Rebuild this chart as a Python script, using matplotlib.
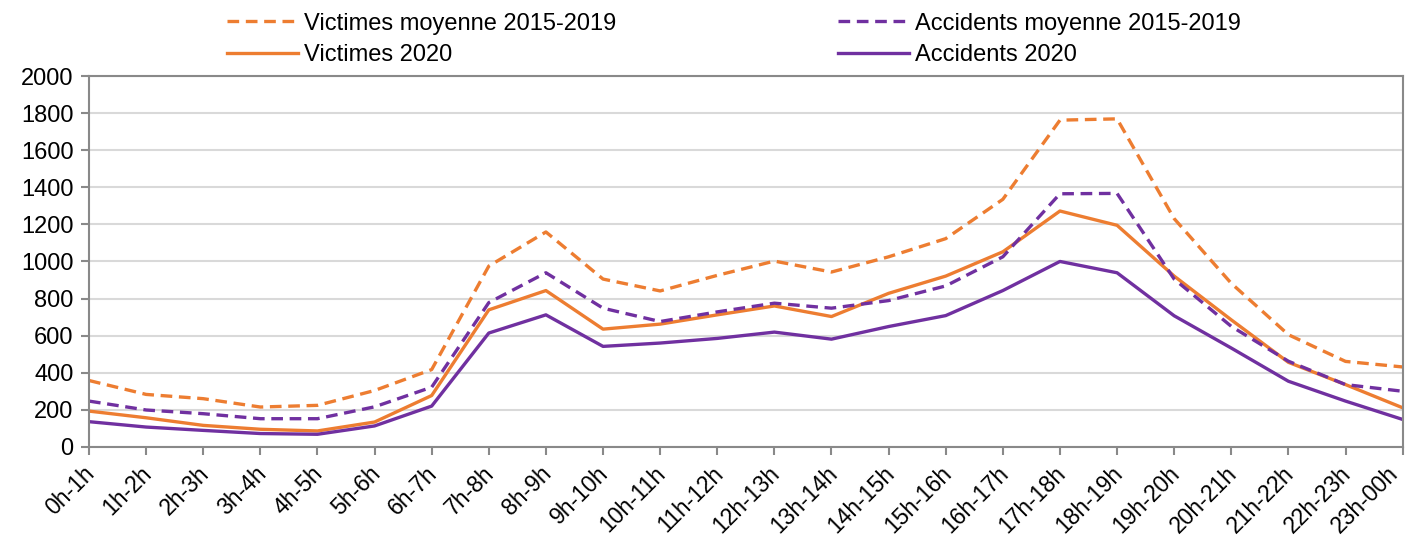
import matplotlib.pyplot as plt
from matplotlib.transforms import ScaledTranslation

plt.rcParams['font.family'] = ['Liberation Sans', 'DejaVu Sans']

# hourly slots
hours = ['0h-1h', '1h-2h', '2h-3h', '3h-4h', '4h-5h', '5h-6h', '6h-7h', '7h-8h',
         '8h-9h', '9h-10h', '10h-11h', '11h-12h', '12h-13h', '13h-14h', '14h-15h',
         '15h-16h', '16h-17h', '17h-18h', '18h-19h', '19h-20h', '20h-21h',
         '21h-22h', '22h-23h', '23h-00h']

victimes_moy = [358, 283, 260, 215, 224, 304, 417, 975, 1159, 905, 841, 925,
                1002, 943, 1025, 1123, 1335, 1762, 1769, 1231, 882, 605, 461, 431]
accidents_moy = [247, 199, 179, 152, 152, 216, 322, 778, 939, 748, 676, 728,
                 775, 748, 789, 868, 1025, 1365, 1367, 905, 650, 462, 336, 300]
victimes_2020 = [193, 157, 116, 95, 86, 134, 277, 739, 843, 635, 662, 712,
                 760, 703, 828, 921, 1052, 1272, 1195, 921, 685, 456, 336, 211]
accidents_2020 = [136, 107, 89, 72, 68, 113, 220, 614, 712, 542, 560, 585,
                  619, 581, 649, 708, 843, 1000, 939, 707, 533, 354, 247, 148]

orange = '#ED7D31'
purple = '#7030A0'

fig = plt.figure(figsize=(14.06, 5.43), dpi=100)
ax = fig.add_axes([0.0633, 0.177, 0.9343, 0.683])

x = range(len(hours))
l1, = ax.plot(x, victimes_moy, color=orange, lw=2.4, ls=(0, (3.5, 2)))
l2, = ax.plot(x, victimes_2020, color=orange, lw=2.4)
l3, = ax.plot(x, accidents_moy, color=purple, lw=2.4, ls=(0, (3.5, 2)))
l4, = ax.plot(x, accidents_2020, color=purple, lw=2.4)

ax.set_xlim(0, len(hours) - 1)
ax.set_ylim(0, 2000)
ax.set_yticks(range(0, 2001, 200))
ax.set_xticks(list(x))
ax.tick_params(axis='both', labelsize=17, color='#898989', length=6, width=1.5)
ax.tick_params(axis='x', pad=5, labelsize=16.5)
ax.tick_params(axis='y', pad=5)
ax.set_xticklabels(hours, rotation=45, ha='right', rotation_mode='anchor')
# nudge the rotated labels so their end sits under the tick
labels = ax.get_xticklabels()
for i, lab in enumerate(labels):
    dx = -0.16 if i == len(labels) - 1 else -0.06   # keep last one inside
    lab.set_transform(lab.get_transform() + ScaledTranslation(dx, 0, fig.dpi_scale_trans))
ax.grid(axis='y', color='#D9D9D9', lw=1.5)
ax.set_axisbelow(True)
for s in ax.spines.values():
    s.set_color('#898989')
    s.set_linewidth(1.5)

fig.legend([l1, l2, l3, l4],
           ['Victimes moyenne 2015-2019', 'Victimes 2020',
            'Accidents moyenne 2015-2019', 'Accidents 2020'],
           ncol=2, loc='upper left', bbox_to_anchor=(0.1565, 0.99),
           frameon=False, fontsize=17, handlelength=3.0, handletextpad=0.25,
           columnspacing=9.4, labelspacing=0.4, borderpad=0.3, borderaxespad=0)

fig.savefig('out.png', dpi=100)
